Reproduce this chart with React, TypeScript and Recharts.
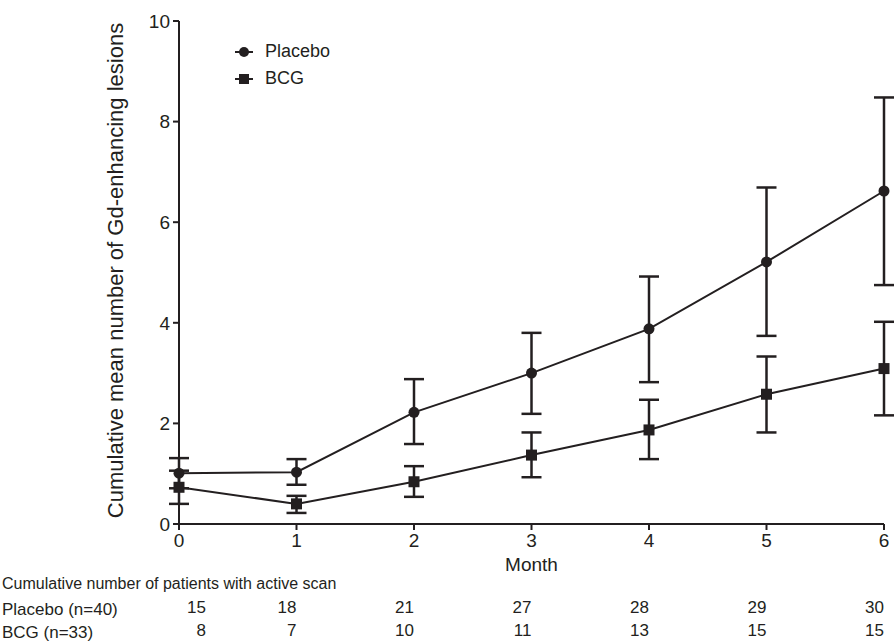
import React from 'react';
import { LineChart, Line, XAxis, YAxis, ErrorBar } from 'recharts';

const months = [0, 1, 2, 3, 4, 5, 6];
const placeboMean = [1.01, 1.03, 2.22, 3.0, 3.88, 5.21, 6.62];
const placeboLow = [0.71, 0.78, 1.59, 2.19, 2.82, 3.74, 4.75];
const placeboHigh = [1.31, 1.29, 2.88, 3.8, 4.92, 6.69, 8.48];
const bcgMean = [0.73, 0.4, 0.84, 1.37, 1.87, 2.58, 3.09];
const bcgLow = [0.4, 0.22, 0.54, 0.93, 1.29, 1.82, 2.16];
const bcgHigh = [1.06, 0.56, 1.15, 1.82, 2.47, 3.33, 4.02];
const placeboCounts = [15, 18, 21, 27, 28, 29, 30];
const bcgCounts = [8, 7, 10, 11, 13, 15, 15];
const yTicks = [0, 2, 4, 6, 8, 10];

const INK = '#231f20';
const FONT = '"Liberation Sans", Arial, sans-serif';

const data = months.map((m, i) => ({
  month: m,
  placebo: placeboMean[i],
  placeboErr: [placeboMean[i] - placeboLow[i], placeboHigh[i] - placeboMean[i]],
  bcg: bcgMean[i],
  bcgErr: [bcgMean[i] - bcgLow[i], bcgHigh[i] - bcgMean[i]],
}));

// square marker for BCG
const SquareDot = (props: any) => {
  const { cx, cy } = props;
  if (cx == null || cy == null) return null;
  return <rect x={cx - 5.5} y={cy - 5.5} width={11} height={11} fill={INK} />;
};

// row of counts under the x axis, right aligned on the month ticks
const countTick = (counts: number[]) => (props: any) => {
  const { x, y, payload } = props;
  const i = months.indexOf(payload.value);
  const px = i === 0 ? x + 27 : x;
  return (
    <text x={px} y={y} dy={17} textAnchor="end" fill={INK} fontSize={17} fontFamily={FONT}>
      {counts[i]}
    </text>
  );
};

const LegendBox = () => (
  <div style={{ position: 'absolute', left: 233, top: 38, fontFamily: FONT, fontSize: 18, color: INK }}>
    <div style={{ display: 'flex', alignItems: 'center', height: 27 }}>
      <svg width={24} height={14}>
        <line x1={2} y1={7} x2={20} y2={7} stroke={INK} strokeWidth={2} />
        <circle cx={11} cy={7} r={5} fill={INK} />
      </svg>
      <span style={{ marginLeft: 8 }}>Placebo</span>
    </div>
    <div style={{ display: 'flex', alignItems: 'center', height: 27 }}>
      <svg width={24} height={14}>
        <line x1={2} y1={7} x2={20} y2={7} stroke={INK} strokeWidth={2} />
        <rect x={6} y={2} width={10} height={10} fill={INK} />
      </svg>
      <span style={{ marginLeft: 8 }}>BCG</span>
    </div>
  </div>
);

export default function App() {
  return (
    <div style={{ position: 'absolute', left: 0, top: 0, width: 894, height: 643, background: '#fff' }}>
      <LineChart
        width={894}
        height={643}
        data={data}
        margin={{ top: 21, right: 10, left: 0, bottom: 1 }}
        style={{ fontFamily: FONT }}
      >
        <XAxis
          dataKey="month"
          type="number"
          domain={[0, 6]}
          ticks={months}
          height={72}
          stroke={INK}
          strokeWidth={2}
          tickSize={6}
          tick={{ fill: INK, fontSize: 19, fontFamily: FONT }}
          tickMargin={4}
          label={{ value: 'Month', position: 'insideTop', offset: 34, fill: INK, fontSize: 19, fontFamily: FONT }}
        />
        <XAxis
          xAxisId="r1"
          dataKey="month"
          type="number"
          domain={[0, 6]}
          ticks={months}
          height={23}
          axisLine={false}
          tickLine={false}
          tickSize={0}
          tickMargin={0}
          tick={countTick(placeboCounts)}
        />
        <XAxis
          xAxisId="r2"
          dataKey="month"
          type="number"
          domain={[0, 6]}
          ticks={months}
          height={23}
          axisLine={false}
          tickLine={false}
          tickSize={0}
          tickMargin={0}
          tick={countTick(bcgCounts)}
        />
        <YAxis
          domain={[0, 10]}
          ticks={yTicks}
          width={179}
          stroke={INK}
          strokeWidth={2}
          tickSize={6}
          tickMargin={3}
          tick={{ fill: INK, fontSize: 19, fontFamily: FONT }}
          label={({ viewBox }: any) => (
            <text
              x={115}
              y={viewBox.y + viewBox.height / 2 - 2}
              transform={`rotate(-90 115 ${viewBox.y + viewBox.height / 2 - 2})`}
              textAnchor="middle"
              dominantBaseline="central"
              fill={INK}
              fontSize={22}
              fontFamily={FONT}
            >
              Cumulative mean number of Gd-enhancing lesions
            </text>
          )}
        />
        <Line
          dataKey="placebo"
          name="Placebo"
          stroke={INK}
          strokeWidth={2}
          dot={{ r: 5.5, fill: INK, stroke: INK, strokeWidth: 0 }}
          activeDot={false}
          isAnimationActive={false}
        >
          <ErrorBar dataKey="placeboErr" direction="y" width={10} stroke={INK} strokeWidth={2.5} isAnimationActive={false} />
        </Line>
        <Line
          dataKey="bcg"
          name="BCG"
          stroke={INK}
          strokeWidth={2}
          dot={<SquareDot />}
          activeDot={false}
          isAnimationActive={false}
        >
          <ErrorBar dataKey="bcgErr" direction="y" width={10} stroke={INK} strokeWidth={2.5} isAnimationActive={false} />
        </Line>
      </LineChart>
      <LegendBox />
      <div
        style={{
          position: 'absolute',
          left: 2,
          top: 572,
          fontFamily: FONT,
          fontSize: 17,
          color: INK,
          lineHeight: '23px',
          whiteSpace: 'nowrap',
        }}
      >
        <div style={{ fontSize: 16, marginBottom: 3 }}>Cumulative number of patients with active scan</div>
        <div>Placebo (n=40)</div>
        <div>BCG (n=33)</div>
      </div>
    </div>
  );
}
